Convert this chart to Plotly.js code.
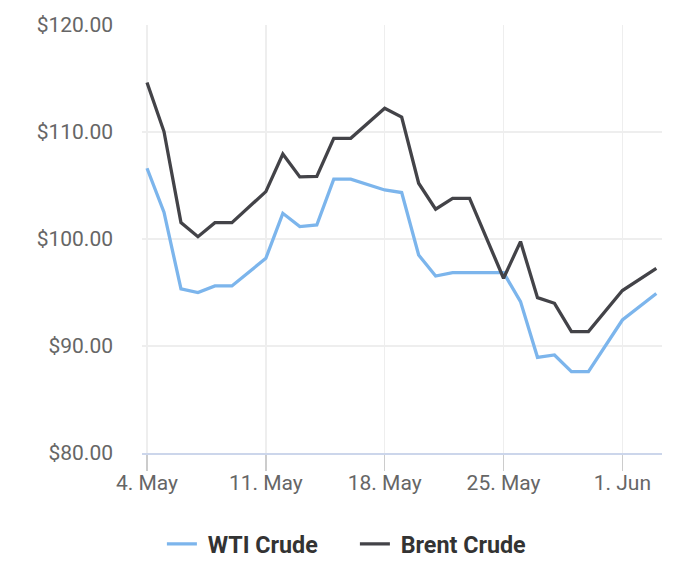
<!DOCTYPE html>
<html>
<head>
<meta charset="utf-8">
<script src="https://cdn.plot.ly/plotly-3.0.1.min.js"></script>
<style>
	body { margin: 0; padding: 0; background: #fff; }
	#chart { width: 700px; height: 574px; }
</style>
</head>
<body>
<div id="chart"></div>
<script>
// daily prices (sundays missing, saturdays repeat friday)
var dates = [
	'2020-05-04', '2020-05-05', '2020-05-06', '2020-05-07', '2020-05-08', '2020-05-09',
	'2020-05-11', '2020-05-12', '2020-05-13', '2020-05-14', '2020-05-15', '2020-05-16',
	'2020-05-18', '2020-05-19', '2020-05-20', '2020-05-21', '2020-05-22', '2020-05-23',
	'2020-05-25', '2020-05-26', '2020-05-27', '2020-05-28', '2020-05-29', '2020-05-30',
	'2020-06-01', '2020-06-03'
];
var wtiCrude = [
	106.61, 102.50, 95.33, 94.99, 95.61, 95.61,
	98.20, 102.40, 101.16, 101.31, 105.60, 105.60,
	104.58, 104.34, 98.50, 96.54, 96.86, 96.86,
	96.86, 94.15, 88.94, 89.16, 87.60, 87.60,
	92.43, 94.90
];
var brentCrude = [
	114.62, 110.04, 101.53, 100.22, 101.53, 101.53,
	104.43, 107.94, 105.80, 105.86, 109.41, 109.41,
	112.21, 111.40, 105.21, 102.78, 103.80, 103.80,
	96.33, 99.76, 94.52, 93.99, 91.35, 91.35,
	95.18, 97.26
];
var seriesNames = ['WTI Crude', 'Brent Crude'];
var seriesColors = ['#7cb5ec', '#434348'];
var weekTicks = ['2020-05-04', '2020-05-11', '2020-05-18', '2020-05-25', '2020-06-01'];


function makeTrace(values, idx) {
	return {
		x: dates,
		y: values,
		// leading nbsp widens the gap between legend symbol and text
		name: '\u00a0' + seriesNames[idx],
		type: 'scatter',
		mode: 'lines',
		line: {color: seriesColors[idx], width: 3.3},
		hoverinfo: 'skip'
	};
}


function drawChart(id) {
	var data = [makeTrace(wtiCrude, 0), makeTrace(brentCrude, 1)];

	var layout = {
		width: 700,
		height: 574,
		margin: {l: 142, r: 38, t: 25, b: 121},
		paper_bgcolor: '#ffffff',
		plot_bgcolor: '#ffffff',
		font: {family: 'Roboto, "Open Sans", sans-serif', color: '#666666', size: 21},
		showlegend: true,
		legend: {
			orientation: 'h',
			xref: 'container',
			yref: 'container',
			x: 0.507,
			xanchor: 'center',
			y: 0.052,
			yanchor: 'middle',
			font: {size: 23.3, color: '#333333', weight: 'bold'},
			itemwidth: 30,
			entrywidth: 148
		},
		xaxis: {
			type: 'date',
			range: ['2020-05-03 16:55', '2020-06-03 08:00'],
			tickvals: weekTicks,
			tickformat: '%-d. %b',
			ticks: 'outside',
			ticklen: 16,
			tickwidth: 1.5,
			tickcolor: '#cccccc',
			ticklabelstandoff: -6,
			showgrid: true,
			gridcolor: '#eeeeee',
			gridwidth: 1.5,
			showline: true,
			linecolor: '#ccd6eb',
			linewidth: 2,
			zeroline: false,
			fixedrange: true
		},
		yaxis: {
			range: [80, 120],
			dtick: 10,
			tickprefix: '$',
			tickformat: '.2f',
			ticks: '',
			ticklabelstandoff: 28,
			showgrid: true,
			gridcolor: '#eeeeee',
			gridwidth: 1.5,
			showline: false,
			zeroline: false,
			fixedrange: true
		}
	};

	Plotly.newPlot(document.getElementById(id), data, layout, {displayModeBar: false, staticPlot: true});
}

drawChart('chart');
</script>
</body>
</html>
